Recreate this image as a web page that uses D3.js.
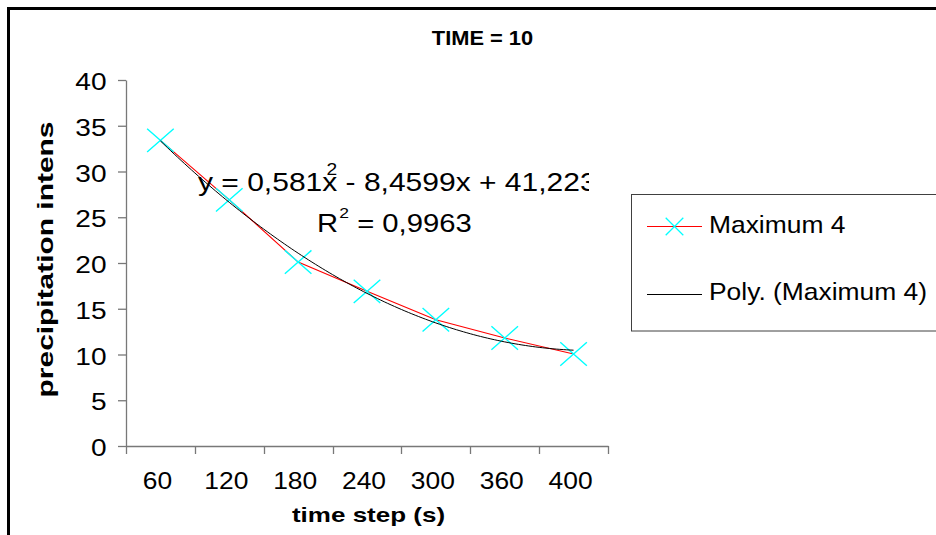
<!DOCTYPE html>
<html><head><meta charset="utf-8">
<script src="https://cdn.jsdelivr.net/npm/d3@7"></script>
<style>
html,body{margin:0;padding:0;background:#fff;overflow:hidden;}
svg{display:block;font-family:"Liberation Sans",Arial,Helvetica,sans-serif;}
</style></head><body>
<svg id="chart" width="936" height="535"></svg>
<script>
// ---------- data ----------
const categories = ["60", "120", "180", "240", "300", "360", "400"];
const maximum4 = [33.4, 26.9, 20.1, 16.9, 13.8, 11.8, 10.05];
const yTicks = [0, 5, 10, 15, 20, 25, 30, 35, 40];
const polyCoefficients = [0.581, -8.4599, 41.223]; // a*x^2 + b*x + c (x = 1..7)
const equationParts = ["y = 0,581x", "2", " - 8,4599x + 41,223"];
const rSquaredParts = ["R", "2", " = 0,9963"];
const seriesNames = ["Maximum 4", "Poly. (Maximum 4)"];
const titleText = "TIME = 10";
const xTitle = "time step (s)";
const yTitle = "precipitation intens";

// ---------- layout ----------
const W = 936, H = 535;
const plot = {left: 126, right: 608, top: 80, bottom: 446};
const svg = d3.select("#chart");
svg.append("rect").attr("width", W).attr("height", H).attr("fill", "#fff");

// outer frame (right/bottom edges fall outside the picture)
svg.append("rect").attr("x", 8.5).attr("y", 8.5).attr("width", 1200).attr("height", 1200)
  .attr("fill", "none").attr("stroke", "#000").attr("stroke-width", 3);

function stext(parent, x, y, str, o) {
  const g = parent.append("g")
    .attr("transform", `translate(${x},${y}) rotate(${o.rotate || 0}) scale(${o.sx || 1},1)`);
  const t = g.append("text")
    .attr("font-size", o.size).attr("font-weight", o.weight || "normal")
    .attr("text-anchor", o.anchor || "start").attr("fill", o.fill || "#000");
  if (str !== null) t.text(str);
  return t;
}

const x = d3.scaleBand().domain(categories).range([plot.left, plot.right]).padding(0);
const y = d3.scaleLinear().domain([0, 40]).range([plot.bottom, plot.top]);
const xc = d => x(d) + x.bandwidth() / 2;
const axisColor = "#787878";

// ---------- y axis ----------
const yAxis = svg.append("g").attr("transform", `translate(${plot.left},0)`)
  .call(d3.axisLeft(y).tickValues(yTicks).tickSizeInner(8).tickSizeOuter(0).tickFormat(d3.format("d")));
yAxis.select(".domain").attr("stroke", axisColor).attr("stroke-width", 1.3);
yAxis.selectAll(".tick line").attr("stroke", axisColor).attr("stroke-width", 1.3);
yAxis.selectAll(".tick text").remove();
yAxis.selectAll(".tick").each(function(d) {
  stext(d3.select(this), -19.5, 9.5, d3.format("d")(d), {size: 24, sx: 1.17, anchor: "end"});
});

// ---------- x axis ----------
const xAxis = svg.append("g").attr("transform", `translate(0,${plot.bottom})`)
  .call(d3.axisBottom(x).tickSizeInner(0).tickSizeOuter(0));
xAxis.select(".domain").attr("stroke", axisColor).attr("stroke-width", 1.3);
xAxis.selectAll(".tick line").remove();
xAxis.selectAll(".tick text").remove();
xAxis.selectAll(".tick").each(function(d) {
  stext(d3.select(this), -3, 43, d, {size: 24, sx: 1.1, anchor: "middle"});
});
const bounds = categories.map(d => x(d)).concat([x.range()[1]]);
xAxis.selectAll(".bound").data(bounds).join("line").attr("class", "bound")
  .attr("x1", d => Math.round(d) + 0.5).attr("x2", d => Math.round(d) + 0.5)
  .attr("y1", 0).attr("y2", 8).attr("stroke", axisColor).attr("stroke-width", 1.3);

// ---------- series ----------
const cyan = "#00ffff";
function xMarkPath(hx, hy) {
  const p = d3.path();
  p.moveTo(-hx, -hy); p.lineTo(hx, hy);
  p.moveTo(-hx, hy); p.lineTo(hx, -hy);
  return p.toString();
}
const line = d3.line().x((d, i) => xc(categories[i])).y(d => y(d));
svg.append("path").datum(maximum4).attr("d", line)
  .attr("fill", "none").attr("stroke", "#ff0000").attr("stroke-width", 1.1);

svg.append("g").selectAll("path").data(maximum4).join("path")
  .attr("transform", (d, i) => `translate(${xc(categories[i])},${y(d)})`)
  .attr("d", xMarkPath(13.3, 11.7))
  .attr("fill", "none").attr("stroke", cyan).attr("stroke-width", 1.4);

// polynomial trend line from the coefficients printed on the chart
const xt = d3.scaleLinear().domain([1, categories.length])
  .range([xc(categories[0]), xc(categories[categories.length - 1])]);
const poly = t => polyCoefficients[0] * t * t + polyCoefficients[1] * t + polyCoefficients[2];
const tSamples = d3.range(1, categories.length + 0.001, 0.05);
svg.append("path").datum(tSamples)
  .attr("d", d3.line().x(t => xt(t)).y(t => y(poly(t))))
  .attr("fill", "none").attr("stroke", "#000").attr("stroke-width", 1);

// ---------- trend equation ----------
svg.append("clipPath").attr("id", "eqclip").append("rect")
  .attr("x", 0).attr("y", 0).attr("width", 589).attr("height", H);
const eqG = svg.append("g").attr("clip-path", "url(#eqclip)");
const eq = stext(eqG, 198, 191, null, {size: 25, sx: 1.2});
eq.append("tspan").text(equationParts[0]);
eq.append("tspan").attr("font-size", 16).attr("dx", -8.9).attr("dy", -16).text(equationParts[1]);
eq.append("tspan").attr("dy", 16).text(equationParts[2]);

const r2 = stext(svg, 317, 232, null, {size: 25, sx: 1.17});
r2.append("tspan").text(rSquaredParts[0]);
r2.append("tspan").attr("font-size", 15).attr("dx", 1).attr("dy", -14).text(rSquaredParts[1]);
r2.append("tspan").attr("dy", 14).text(rSquaredParts[2]);

// ---------- titles ----------
stext(svg, 482.5, 45, titleText, {size: 21, weight: "bold", sx: 1.04, anchor: "middle"});
stext(svg, 368.5, 522, xTitle, {size: 20, weight: "bold", sx: 1.3, anchor: "middle"});
stext(svg, 53, 259.5, yTitle, {size: 22, weight: "bold", sx: 1.36, anchor: "middle", rotate: -90});

// ---------- legend ----------
const lg = svg.append("g");
lg.append("rect").attr("x", 631.5).attr("y", 194.5).attr("width", 400).attr("height", 136.5)
  .attr("fill", "#fff").attr("stroke", "#404040").attr("stroke-width", 1);
const legendRows = [
  {name: seriesNames[0], color: "#ff0000", marker: true, y: 226, base: 233},
  {name: seriesNames[1], color: "#000", marker: false, y: 294, base: 300}
];
legendRows.forEach(r => {
  lg.append("line").attr("x1", 647).attr("x2", 702).attr("y1", r.y + 0.5).attr("y2", r.y + 0.5)
    .attr("stroke", r.color).attr("stroke-width", 1.1);
  if (r.marker) {
    lg.append("path").attr("transform", `translate(674.5,${r.y + 0.5})`).attr("d", xMarkPath(8.8, 8.8))
      .attr("fill", "none").attr("stroke", cyan).attr("stroke-width", 1.3);
  }
  stext(lg, 709, r.base, r.name, {size: 24, sx: 1.1});
});
</script>
</body></html>
